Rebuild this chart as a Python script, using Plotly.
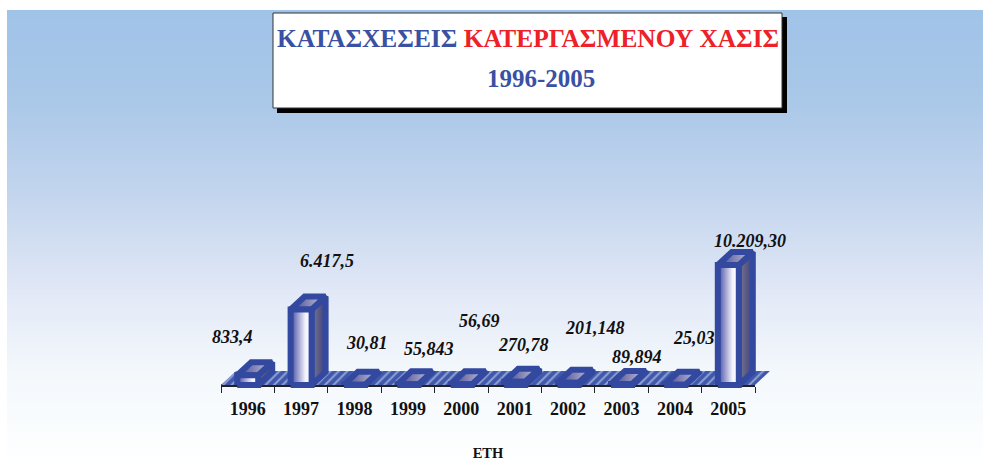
import plotly.graph_objects as go

years = ["1996", "1997", "1998", "1999", "2000", "2001", "2002", "2003", "2004", "2005"]
values = [833.4, 6417.5, 30.81, 55.843, 56.69, 270.78, 201.148, 89.894, 25.03, 10209.30]
value_labels = ["833,4", "6.417,5", "30,81", "55,843", "56,69", "270,78", "201,148", "89,894", "25,03", "10.209,30"]
title_a = "ΚΑΤΑΣΧΕΣΕΙΣ"
title_b = "ΚΑΤΕΡΓΑΣΜΕΝΟΥ ΧΑΣΙΣ"
title_c = "1996-2005"
x_title = "ΕΤΗ"

W, H = 983, 461
# tick axes occupy L..R, T..B; the wider drawing subplot occupies X0..X1, T..Y1
L, R, T, B = 221, 755, 185, 385
X0, X1, Y1 = 211, 790, 400
PX_X = 10 / (R - L)
Y_MAX = 10209.30 * (B - T) / 120
PX_Y = Y_MAX / (B - T)

BLUE = "#3349a0"
FONT = "Liberation Serif"


def fx(x):
    return (x - X0) / (X1 - X0)


def fy(y):
    return (Y1 - y) / (Y1 - T)


fig = go.Figure()

# page background gradient, painted top-down so that bands never leave gaps
shapes = []
stops = [(10, (160, 195, 232)), (100, (170, 200, 232)), (200, (197, 214, 238)),
         (300, (228, 234, 247)), (370, (243, 248, 252)), (461, (254, 255, 255))]
BG_L, BG_R = 7, 983


def band_color(y):
    for (y0, c0), (y1, c1) in zip(stops, stops[1:]):
        if y <= y1:
            f = (y - y0) / (y1 - y0)
            return tuple(round(a + (b - a) * f) for a, b in zip(c0, c1))
    return stops[-1][1]


def pb(xv, yv):
    return dict(xref="paper", yref="paper", x0=fx(xv[0]), x1=fx(xv[1]), y0=fy(yv[1]), y1=fy(yv[0]))


for y in range(10, 461, 3):
    shapes.append(dict(type="rect", layer="below", line_width=0,
                       fillcolor="rgb(%d,%d,%d)" % band_color(y), **pb((BG_L, BG_R), (y, 461))))

shapes.append(dict(type="rect", layer="below", line_width=0, fillcolor="black", **pb((277, 787), (17, 113))))
shapes.append(dict(type="rect", layer="below", line=dict(color="#333333", width=1), fillcolor="white",
                   **pb((273, 782), (13, 108))))

# trace on the tick axis, keeps that subplot alive
fig.add_trace(go.Scatter(x=[-0.5, 9.5], y=[0, 0], mode="lines", line=dict(color="#222222", width=1.5),
                         hoverinfo="skip", showlegend=False))

# hatched floor
dx = 15 * PX_X
dy = 14 * PX_Y
fig.add_trace(go.Scatter(
    x=[-0.5, 9.5, 9.5 + dx, -0.5 + dx, -0.5], y=[0, 0, dy, dy, 0],
    xaxis="x2", yaxis="y2",
    mode="lines", fill="toself", line=dict(width=0, simplify=False),
    fillcolor=BLUE,
    fillpattern=dict(shape="/", fgcolor="#dfe6f6", bgcolor="#3f58ac", size=6, solidity=0.35),
    hoverinfo="skip", showlegend=False))

hw = 10.5 * PX_X
bx = 14 * PX_X
by = 13 * PX_Y
front_cs = [[0, "#3a4a9e"], [0.35, "#9a9ccf"], [0.7, "#f2f2fa"], [1, "#ffffff"]]
side_cs = [[0, "#7a7a8c"], [1, "#3e3e80"]]
top_cs = [[0, "#43438f"], [1, "#c8c8dc"]]
edge = dict(color=BLUE, width=6, simplify=False)
for i, v in enumerate(values):
    x0, x1 = i - hw, i + hw
    common = dict(mode="lines", fill="toself", line=edge, hoverinfo="skip", showlegend=False,
                  xaxis="x2", yaxis="y2")
    fig.add_trace(go.Scatter(x=[x1, x1 + bx, x1 + bx, x1, x1], y=[0, by, v + by, v, 0],
                             fillgradient=dict(type="horizontal", colorscale=side_cs), **common))
    fig.add_trace(go.Scatter(x=[x0, x1, x1 + bx, x0 + bx, x0], y=[v, v, v + by, v + by, v],
                             fillgradient=dict(type="horizontal", colorscale=top_cs), **common))
    fig.add_trace(go.Scatter(x=[x0, x1, x1, x0, x0], y=[0, 0, v, v, 0],
                             fillgradient=dict(type="horizontal", colorscale=front_cs), **common))

annotations = []
label_px = [(232, 337), (327, 261), (367, 343), (429, 349), (479, 321),
            (523, 345), (595, 328), (637, 357), (694, 338), (750, 241)]
for t, (lx, ly) in zip(value_labels, label_px):
    annotations.append(dict(xref="paper", yref="paper", x=fx(lx), y=fy(ly),
                            text="<b><i>%s</i></b>" % t, showarrow=False, xanchor="center", yanchor="middle",
                            font=dict(family=FONT, size=18, color="#111111")))
annotations.append(dict(xref="paper", yref="paper", x=fx(528), y=fy(38),
                        text='<b>%s <span style="color:#ee2028">%s</span></b>' % (title_a, title_b),
                        showarrow=False, xanchor="center", yanchor="middle",
                        font=dict(family=FONT, size=25.4, color="#3a50a3")))
annotations.append(dict(xref="paper", yref="paper", x=fx(541), y=fy(78),
                        text="<b>%s</b>" % title_c, showarrow=False, xanchor="center", yanchor="middle",
                        font=dict(family=FONT, size=25, color="#3a50a3")))

fig.update_layout(
    width=W, height=H, autosize=False,
    margin=dict(l=X0, r=W - X1, t=T, b=H - Y1, pad=0, autoexpand=False),
    paper_bgcolor="white", plot_bgcolor="rgba(0,0,0,0)",
    showlegend=False, shapes=shapes, annotations=annotations,
    xaxis=dict(domain=[fx(L), fx(R)], range=[-0.5, 9.5], tickvals=list(range(10)), ticktext=years,
               ticks="outside", ticklen=7, tickcolor="rgba(0,0,0,0)", anchor="y",
               minor=dict(tickvals=[i - 0.5 for i in range(11)], ticks="outside", ticklen=6, tickwidth=1,
                          tickcolor="#222222", showgrid=False),
               showgrid=False, zeroline=False, showline=True, linecolor="#222222", linewidth=1.5, automargin=False,
               tickfont=dict(family=FONT, size=18, color="#111111", weight="bold"),
               title=dict(text="<b>%s</b>" % x_title, standoff=34, font=dict(family=FONT, size=14.5, color="#111111"))),
    yaxis=dict(domain=[fy(B), 1], range=[0, Y_MAX], visible=False, automargin=False, anchor="x"),
    xaxis2=dict(domain=[0, 1], range=[-0.5 - (L - X0) * PX_X, 9.5 + (X1 - R) * PX_X], visible=False,
                automargin=False, anchor="y2"),
    yaxis2=dict(domain=[0, 1], range=[-(Y1 - B) * PX_Y, Y_MAX], visible=False,
                automargin=False, anchor="x2"),
)

fig.write_html("out.html", config={"displayModeBar": False},
               post_script="document.body.style.margin='0';document.body.style.overflow='hidden';")
